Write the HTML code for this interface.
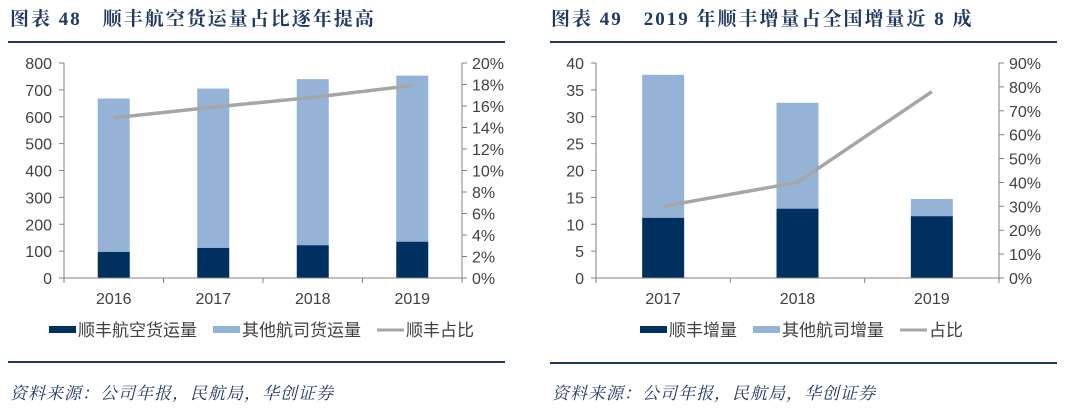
<!DOCTYPE html>
<html><head><meta charset="utf-8"><style>
body{margin:0;background:#fff;width:1069px;height:409px;overflow:hidden}
svg{display:block}
.t{font-family:"Liberation Serif","Noto Serif CJK SC",serif;font-weight:bold;fill:#1F3864;font-size:19px;letter-spacing:2px}
.ax{font-family:"Liberation Sans","Noto Sans CJK SC",sans-serif;font-size:16px;fill:#404040}
.lg{font-family:"Liberation Sans","Noto Sans CJK SC",sans-serif;font-size:17px;fill:#404040}
.src{font-family:"Liberation Serif","Noto Serif CJK SC",serif;font-style:italic;font-size:17px;fill:#1F3864;letter-spacing:1px}
</style></head><body>
<svg id="s" width="1069" height="409">
<text class="t" x="10" y="25">图表 48　顺丰航空货运量占比逐年提高</text>
<text class="t" x="551" y="25">图表 49　2019 年顺丰增量占全国增量近 8 成</text>
<rect x="8" y="41" width="497" height="2" fill="#1F3864"/>
<rect x="550" y="41" width="507" height="2" fill="#1F3864"/>
<rect x="8" y="361" width="497" height="2" fill="#1F3864"/>
<rect x="550" y="362" width="507" height="2" fill="#1F3864"/>
<text class="src" x="10" y="399">资料来源：公司年报，民航局，华创证券</text>
<text class="src" x="552" y="399">资料来源：公司年报，民航局，华创证券</text>
</svg>
<script>
const cats1=["2016","2017","2018","2019"];
const sf1=[97,112,122,135];
const total1=[668,705,740,753];
const share1=[14.9,15.9,16.8,17.9];
const yTicks1=[0,100,200,300,400,500,600,700,800];
const rTicks1=[0,2,4,6,8,10,12,14,16,18,20];
const legend1=["顺丰航空货运量","其他航司货运量","顺丰占比"];

const cats2=["2017","2018","2019"];
const sf2=[11.2,12.9,11.5];
const total2=[37.8,32.6,14.7];
const share2=[30,40,78];
const yTicks2=[0,5,10,15,20,25,30,35,40];
const rTicks2=[0,10,20,30,40,50,60,70,80,90];
const legend2=["顺丰增量","其他航司增量","占比"];

const NS="http://www.w3.org/2000/svg";
const svg=document.getElementById('s');
function mk(tag,attrs,txt){const e=document.createElementNS(NS,tag);for(const k in attrs)e.setAttribute(k,attrs[k]);if(txt!=null)e.textContent=txt;svg.appendChild(e);return e;}

function chart(o){
  const {x0,x1,y0,y1,cats,sf,total,share,yT,rT,yMax,rMax,bw,leg,legX,p}=o;
  const ys=v=>y0-(v/yMax)*(y0-y1);
  const rs=v=>y0-(v/rMax)*(y0-y1);
  const band=(x1-x0)/cats.length;
  const xc=i=>x0+band*(i+0.5);
  let e;
  e=mk('line',{x1:x0,y1:y1,x2:x0,y2:y0,stroke:'#808080','stroke-width':1});
  
  
  e=mk('line',{x1:x1,y1:y1,x2:x1,y2:y0,stroke:'#808080','stroke-width':1});
  
  
  yT.forEach(v=>{
    mk('line',{x1:x0-5,y1:ys(v),x2:x0,y2:ys(v),stroke:'#808080'});
    e=mk('text',{class:'ax',x:x0-12,y:ys(v)+6,'text-anchor':'end'},String(v));
    
    
  });
  rT.forEach(v=>{
    mk('line',{x1:x1,y1:rs(v),x2:x1+5,y2:rs(v),stroke:'#808080'});
    e=mk('text',{class:'ax',x:x1+10,y:rs(v)+6},v+'%');
    
    
  });
  cats.forEach((c,i)=>{
    e=mk('rect',{x:xc(i)-bw/2,y:ys(total[i]),width:bw,height:ys(sf[i])-ys(total[i]),fill:'#95B3D7'});
    
    
    e=mk('rect',{x:xc(i)-bw/2,y:ys(sf[i]),width:bw,height:y0-ys(sf[i]),fill:'#003060'});
    
    
    e=mk('text',{class:'ax',x:xc(i),y:y0+26,'text-anchor':'middle'},c);
    
    
  });
  for(let i=0;i<=cats.length;i++)mk('line',{x1:x0+band*i,y1:y0,x2:x0+band*i,y2:y0+5,stroke:'#808080'});
  mk('line',{x1:x0,y1:y0,x2:x1,y2:y0,stroke:'#808080'});
  e=mk('polyline',{points:share.map((v,i)=>xc(i)+','+rs(v)).join(' '),fill:'none',stroke:'#A6A6A6','stroke-width':3.5,'stroke-linejoin':'round'});
  
  
  let lx=legX;const ly=330;
  const cols=['#003060','#95B3D7','#A6A6A6'];
  leg.forEach((t,k)=>{
    if(k<2)mk('rect',{x:lx,y:ly-4,width:27,height:7,fill:cols[k]});
    else mk('line',{x1:lx,y1:ly,x2:lx+27,y2:ly,stroke:cols[k],'stroke-width':3});
    e=mk('text',{class:'lg',x:lx+29,y:ly+6},t);
    
    
    lx+=29+t.length*17+16;
  });
}
chart({x0:64,x1:462,y0:278,y1:63,cats:cats1,sf:sf1,total:total1,share:share1,yT:yTicks1,rT:rTicks1,yMax:800,rMax:20,bw:32,leg:legend1,legX:49,p:'left'});
chart({x0:596,x1:999,y0:278,y1:63,cats:cats2,sf:sf2,total:total2,share:share2,yT:yTicks2,rT:rTicks2,yMax:40,rMax:90,bw:42,leg:legend2,legX:640,p:'right'});
</script>
</body></html>
